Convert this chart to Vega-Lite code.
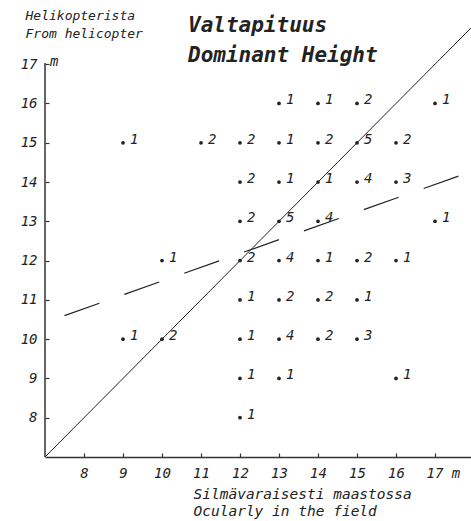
{
  "$schema": "https://vega.github.io/schema/vega-lite/v6.json",
  "width": 426,
  "height": 436,
  "autosize": {"type": "none"},
  "padding": {"left": 45, "top": 21, "right": 0, "bottom": 64},
  "background": "white",
  "title": {
    "text": ["Valtapituus", "Dominant Height"],
    "anchor": "start",
    "frame": "group",
    "dx": 143,
    "offset": -74,
    "font": "DejaVu Sans Mono",
    "fontSize": 21,
    "fontWeight": "bold",
    "fontStyle": "italic",
    "lineHeight": 30,
    "baseline": "alphabetic",
    "color": "#222"
  },
  "config": {"view": {"stroke": null}},
  "datasets": {
    "pts": [
      {"x": 13, "y": 16, "n": "1"}, {"x": 14, "y": 16, "n": "1"}, {"x": 15, "y": 16, "n": "2"}, {"x": 17, "y": 16, "n": "1"},
      {"x": 9, "y": 15, "n": "1"}, {"x": 11, "y": 15, "n": "2"}, {"x": 12, "y": 15, "n": "2"}, {"x": 13, "y": 15, "n": "1"}, {"x": 14, "y": 15, "n": "2"}, {"x": 15, "y": 15, "n": "5"}, {"x": 16, "y": 15, "n": "2"},
      {"x": 12, "y": 14, "n": "2"}, {"x": 13, "y": 14, "n": "1"}, {"x": 14, "y": 14, "n": "1"}, {"x": 15, "y": 14, "n": "4"}, {"x": 16, "y": 14, "n": "3"},
      {"x": 12, "y": 13, "n": "2"}, {"x": 13, "y": 13, "n": "5"}, {"x": 14, "y": 13, "n": "4"}, {"x": 17, "y": 13, "n": "1"},
      {"x": 10, "y": 12, "n": "1"}, {"x": 12, "y": 12, "n": "2"}, {"x": 13, "y": 12, "n": "4"}, {"x": 14, "y": 12, "n": "1"}, {"x": 15, "y": 12, "n": "2"}, {"x": 16, "y": 12, "n": "1"},
      {"x": 12, "y": 11, "n": "1"}, {"x": 13, "y": 11, "n": "2"}, {"x": 14, "y": 11, "n": "2"}, {"x": 15, "y": 11, "n": "1"},
      {"x": 9, "y": 10, "n": "1"}, {"x": 10, "y": 10, "n": "2"}, {"x": 12, "y": 10, "n": "1"}, {"x": 13, "y": 10, "n": "4"}, {"x": 14, "y": 10, "n": "2"}, {"x": 15, "y": 10, "n": "3"},
      {"x": 12, "y": 9, "n": "1"}, {"x": 13, "y": 9, "n": "1"}, {"x": 16, "y": 9, "n": "1"},
      {"x": 12, "y": 8, "n": "1"}
    ],
    "diag": [{"x": 7, "y": 7, "x2": 18.2, "y2": 18.2}],
    "reg": [{"x": 7.5, "y": 10.6, "x2": 17.6, "y2": 14.15}],
    "yline": [{"x": 7, "y": 7, "y2": 17.03}],
    "unit": [{"x": 7, "y": 17, "t": "m"}]
  },
  "layer": [
    {
      "data": {"name": "pts"},
      "mark": {"type": "point", "filled": true, "size": 14, "color": "#222", "opacity": 1},
      "encoding": {
        "x": {
          "field": "x", "type": "quantitative",
          "scale": {"domain": [7, 17.923], "nice": false, "zero": false},
          "axis": {
            "values": [8, 9, 10, 11, 12, 13, 14, 15, 16, 17],
            "grid": false,
            "domainColor": "#333", "domainWidth": 1.5,
            "tickColor": "#333", "tickSize": -4, "tickWidth": 1.2,
            "labelFont": "DejaVu Sans Mono", "labelFontStyle": "italic", "labelFontSize": 14, "labelColor": "#222",
            "labelPadding": 13, "labelFlush": false, "labelOverlap": false,
            "labelExpr": "datum.value == 17 ? '17 m' : datum.label",
            "labelAlign": {"condition": {"test": "datum.value == 17", "value": "left"}, "value": "center"},
            "labelOffset": {"condition": {"test": "datum.value == 17", "value": -9}, "value": 0},
            "title": ["Silmävaraisesti maastossa", "Ocularly in the field"],
            "titleX": 148, "titleY": 41, "titleAlign": "left", "titleBaseline": "alphabetic", "titleAngle": 0,
            "titleFont": "DejaVu Sans Mono", "titleFontSize": 14.5, "titleFontStyle": "italic", "titleFontWeight": "normal",
            "titleLineHeight": 17, "titleColor": "#222"
          }
        },
        "y": {
          "field": "y", "type": "quantitative",
          "scale": {"domain": [7, 18.1], "nice": false, "zero": false},
          "axis": {
            "values": [8, 9, 10, 11, 12, 13, 14, 15, 16, 17],
            "grid": false, "domain": false,
            "tickColor": "#333", "tickSize": -4, "tickWidth": 1.2,
            "labelFont": "DejaVu Sans Mono", "labelFontStyle": "italic", "labelFontSize": 14, "labelColor": "#222",
            "labelPadding": 12, "labelBaseline": "middle",
            "title": ["Helikopterista", "From helicopter"],
            "titleX": -20, "titleY": -2, "titleAlign": "left", "titleBaseline": "alphabetic", "titleAngle": 0,
            "titleFont": "DejaVu Sans Mono", "titleFontSize": 13, "titleFontStyle": "italic", "titleFontWeight": "normal",
            "titleLineHeight": 18, "titleColor": "#222"
          }
        }
      }
    },
    {
      "data": {"name": "pts"},
      "mark": {"type": "text", "align": "left", "baseline": "alphabetic", "dx": 7, "dy": 1, "font": "DejaVu Sans Mono", "fontStyle": "italic", "fontSize": 14, "color": "#222"},
      "encoding": {
        "x": {"field": "x", "type": "quantitative"},
        "y": {"field": "y", "type": "quantitative"},
        "text": {"field": "n"}
      }
    },
    {
      "data": {"name": "diag"},
      "mark": {"type": "rule", "color": "#222", "strokeWidth": 1, "clip": true},
      "encoding": {
        "x": {"field": "x", "type": "quantitative"},
        "y": {"field": "y", "type": "quantitative"},
        "x2": {"field": "x2"},
        "y2": {"field": "y2"}
      }
    },
    {
      "data": {"name": "reg"},
      "mark": {"type": "rule", "color": "#222", "strokeWidth": 1.2, "strokeDash": [37, 26.5]},
      "encoding": {
        "x": {"field": "x", "type": "quantitative"},
        "y": {"field": "y", "type": "quantitative"},
        "x2": {"field": "x2"},
        "y2": {"field": "y2"}
      }
    },
    {
      "data": {"name": "yline"},
      "mark": {"type": "rule", "color": "#333", "strokeWidth": 1.5},
      "encoding": {
        "x": {"field": "x", "type": "quantitative"},
        "y": {"field": "y", "type": "quantitative"},
        "y2": {"field": "y2"}
      }
    },
    {
      "data": {"name": "unit"},
      "mark": {"type": "text", "align": "left", "baseline": "middle", "dx": 5, "dy": -2, "font": "DejaVu Sans Mono", "fontStyle": "italic", "fontSize": 14, "color": "#222"},
      "encoding": {
        "x": {"field": "x", "type": "quantitative"},
        "y": {"field": "y", "type": "quantitative"},
        "text": {"field": "t"}
      }
    }
  ]
}
